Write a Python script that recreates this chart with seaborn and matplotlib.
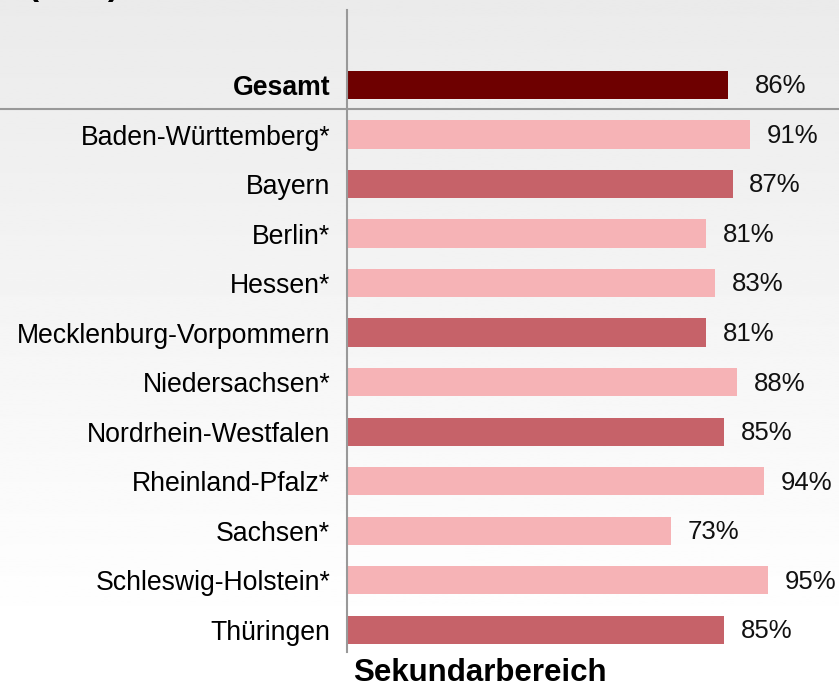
import numpy as np
import pandas as pd
import seaborn as sns
import matplotlib.pyplot as plt
from matplotlib.lines import Line2D

## data
laender = ["Gesamt", "Baden-Württemberg*", "Bayern", "Berlin*", "Hessen*",
           "Mecklenburg-Vorpommern", "Niedersachsen*", "Nordrhein-Westfalen",
           "Rheinland-Pfalz*", "Sachsen*", "Schleswig-Holstein*", "Thüringen"]
anteil = [86, 91, 87, 81, 83, 81, 88, 85, 94, 73, 95, 85]
gruppe = ["gesamt", "hell", "dunkel", "hell", "hell", "dunkel", "hell", "dunkel",
          "hell", "hell", "hell", "dunkel"]

farben = {"gesamt": "#6e0000", "dunkel": "#c66269", "hell": "#f6b3b6"}

df = pd.DataFrame({"Land": laender, "Anteil": anteil, "Gruppe": gruppe})

sns.set_style("white")
plt.rcParams['font.family'] = ['Liberation Sans', 'DejaVu Sans']
plt.rcParams['text.color'] = 'black'
plt.rcParams['ytick.color'] = 'black'

fig = plt.figure(figsize=(8.39, 6.87), dpi=100)

## background gradient
bg = fig.add_axes([0, 0, 1, 1], zorder=-10)
grad = np.linspace(0.92, 1.0, 256)
grad = np.concatenate([grad, np.ones(20)])[:, None]
bg.imshow(grad, cmap="gray", vmin=0, vmax=1, aspect="auto", extent=[0, 1, 0, 1])
bg.axis("off")

ax = fig.add_axes([347 / 839, 1 - 652 / 687, 1 - 347 / 839, (652 - 10) / 687])
ax.set_facecolor("none")

sns.barplot(data=df, y="Land", x="Anteil", hue="Gruppe", palette=farben,
            orient="h", width=0.57, dodge=False, legend=False, saturation=1,
            linewidth=0, ax=ax)

ax.set_xlim(0, 111)
ax.set_ylim(11.45, -1.515)
ax.set_xlabel("")
ax.set_ylabel("")
ax.set_xticks([])
ax.tick_params(axis="y", length=0, pad=12, labelsize=19.2, labelcolor="black")
for lbl in ax.get_yticklabels():
    if lbl.get_text() == "Gesamt":
        lbl.set_fontweight("bold")

for cont in ax.containers:
    for bar in cont:
        w = bar.get_width()
        if np.isnan(w):
            continue
        pad = 19 if abs(bar.get_y() + bar.get_height() / 2) < 0.1 else 12
        ax.annotate(f"{w:.0f}%", (w, bar.get_y() + bar.get_height() / 2),
                    xytext=(pad, -1), textcoords="offset points",
                    va="center", ha="left", fontsize=18.5, color="#111111")

for s in ["top", "right", "bottom"]:
    ax.spines[s].set_visible(False)
ax.spines["left"].set_color("#999999")
ax.spines["left"].set_linewidth(1.5)

## separator under Gesamt
fig.add_artist(Line2D([0, 1], [1 - 109 / 687] * 2, color="#999999", lw=1.5))

fig.text(353 / 839, 1 - 673 / 687, "Sekundarbereich", fontsize=22.5,
         fontweight="bold", va="center", ha="left", color="black")
fig.text(28 / 839, 1 + 5 / 687, "(in %)", fontsize=24, fontweight="bold",
         va="baseline", ha="left", color="black")

fig.savefig("out.png", dpi=100)
